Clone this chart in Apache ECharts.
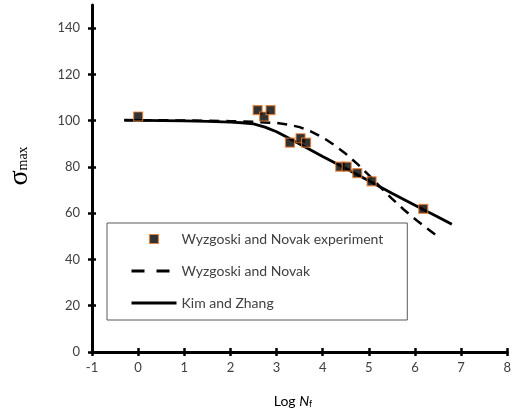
<!DOCTYPE html>
<html>
<head>
<meta charset="utf-8">
<script src="https://cdn.jsdelivr.net/npm/echarts@6/dist/echarts.min.js"></script>
<style>html,body{margin:0;padding:0;background:#fff}#c{width:514px;height:417px}</style>
</head>
<body>
<div id="c"></div>
<script>
// ---- data ----
var expX = [0, 2.59, 2.73, 2.87, 3.29, 3.52, 3.64, 4.38, 4.52, 4.75, 5.06, 6.18];
var expY = [101.8, 104.6, 101.8, 104.6, 90.5, 92.4, 90.5, 80.1, 80.1, 77.3, 73.8, 61.9];
var wnX = [-0.3, 1, 2, 2.5, 3, 3.25, 3.5, 3.75, 4, 4.25, 4.5, 4.75, 5, 5.25, 5.5, 5.75, 6, 6.25, 6.45];
var wnY = [100.2, 100.1, 99.8, 99.5, 99.0, 98.3, 97.2, 95.3, 92.8, 89.5, 85.7, 81.3, 76.5, 71.3, 66.3, 61.7, 57.5, 53.6, 50.6];
var kzX = [-0.3, 0.5, 1, 1.5, 2, 2.25, 2.5, 2.75, 3, 3.25, 3.5, 4, 4.5, 5, 5.5, 6, 6.5, 6.8];
var kzY = [100.2, 100.0, 99.9, 99.7, 99.4, 99.1, 98.6, 97.2, 95.2, 92.6, 89.9, 84.5, 79.3, 74.0, 68.6, 63.4, 58.4, 55.2];
var seriesNames = ['Wyzgoski and Novak experiment', 'Wyzgoski and Novak', 'Kim and Zhang'];
var yTicks = [0, 20, 40, 60, 80, 100, 120, 140];

function pairs(xs, ys) { return xs.map(function (x, i) { return [x, ys[i]]; }); }

var chart = echarts.init(document.getElementById('c'), null, { renderer: 'canvas' });
var sans = 'Lato';
var tickStyle = { color: '#000', width: 2.5 };
chart.setOption({
  animation: false,
  backgroundColor: '#fff',
  grid: { left: 92, right: 1, top: 5, bottom: 65, containLabel: false },
  xAxis: [
    {
      type: 'value', min: -1, max: 8, interval: 1, position: 'bottom',
      axisLine: { show: true, onZero: false, lineStyle: { color: '#000', width: 3 } },
      axisTick: { show: true, inside: false, length: 4, lineStyle: tickStyle },
      axisLabel: { color: '#404040', fontFamily: sans, fontSize: 13, margin: 9 },
      splitLine: { show: false }
    },
    {
      type: 'value', min: -1, max: 8, interval: 1, position: 'bottom',
      axisLine: { show: false, onZero: false },
      axisTick: { show: true, inside: true, length: 4, lineStyle: tickStyle },
      axisLabel: { show: false }, splitLine: { show: false }
    }
  ],
  yAxis: [
    {
      type: 'value', min: 0, max: 150, interval: 20, position: 'left',
      axisLine: { show: true, onZero: false, lineStyle: { color: '#000', width: 3 } },
      axisTick: { show: true, inside: false, length: 4, lineStyle: tickStyle, customValues: yTicks },
      axisLabel: { color: '#404040', fontFamily: sans, fontSize: 13, margin: 12, customValues: yTicks },
      splitLine: { show: false }
    },
    {
      type: 'value', min: 0, max: 150, interval: 20, position: 'left',
      axisLine: { show: false, onZero: false },
      axisTick: { show: true, inside: true, length: 4, lineStyle: tickStyle, customValues: yTicks },
      axisLabel: { show: false }, splitLine: { show: false }
    }
  ],
  legend: {
    orient: 'vertical', left: 107, top: 223,
    padding: [8, 24, 9, 23],
    borderColor: '#595959', borderWidth: 1,
    itemWidth: 45, itemHeight: 9, itemGap: 16,
    symbolKeepAspect: true,
    textStyle: { color: '#404040', fontFamily: sans, fontSize: 14, lineHeight: 16 },
    data: [
      { name: seriesNames[0], icon: 'path://M0,0h10v10h-10z', itemStyle: { borderWidth: 1.2, borderColor: '#ED7D31', color: '#000' } },
      { name: seriesNames[1], itemStyle: { opacity: 0 }, lineStyle: { type: [13, 12], width: 3, color: '#000' } },
      { name: seriesNames[2], itemStyle: { opacity: 0 }, lineStyle: { width: 3, color: '#000' } }
    ]
  },
  series: [
    {
      name: seriesNames[1], type: 'line', data: pairs(wnX, wnY),
      symbol: 'none', smooth: false,
      lineStyle: { color: '#000', width: 2.5, type: [10, 7] }, itemStyle: { color: '#000', opacity: 0 }, z: 2
    },
    {
      name: seriesNames[2], type: 'line', data: pairs(kzX, kzY),
      symbol: 'none', smooth: false,
      lineStyle: { color: '#000', width: 2.8 }, itemStyle: { color: '#000', opacity: 0 }, z: 3
    },
    {
      name: seriesNames[0], type: 'scatter', data: pairs(expX, expY),
      symbol: 'rect', symbolSize: 9,
      itemStyle: { color: '#000', borderColor: '#ED7D31', borderWidth: 1.2 }, z: 4
    }
  ],
  graphic: [
    {
      type: 'text', x: 20, y: 166, rotation: Math.PI / 2,
      style: {
        text: '{s|σ}{m|max}', align: 'center', verticalAlign: 'middle',
        rich: {
          s: { fontFamily: 'Liberation Serif', fontSize: 28, fill: '#000' },
          m: { fontFamily: 'Liberation Serif', fontSize: 14, fill: '#000', padding: [7, 0, 0, 0] }
        }
      }
    },
    {
      type: 'text', x: 293, y: 401,
      style: {
        text: '{r|Log }{i|N}{f|f}', align: 'center', verticalAlign: 'middle',
        rich: {
          r: { fontFamily: sans, fontSize: 14, fill: '#000' },
          i: { fontFamily: sans, fontSize: 14, fontStyle: 'italic', fill: '#000' },
          f: { fontFamily: sans, fontSize: 9, fill: '#000', padding: [6, 0, 0, 0] }
        }
      }
    }
  ]
});
</script>
</body>
</html>
